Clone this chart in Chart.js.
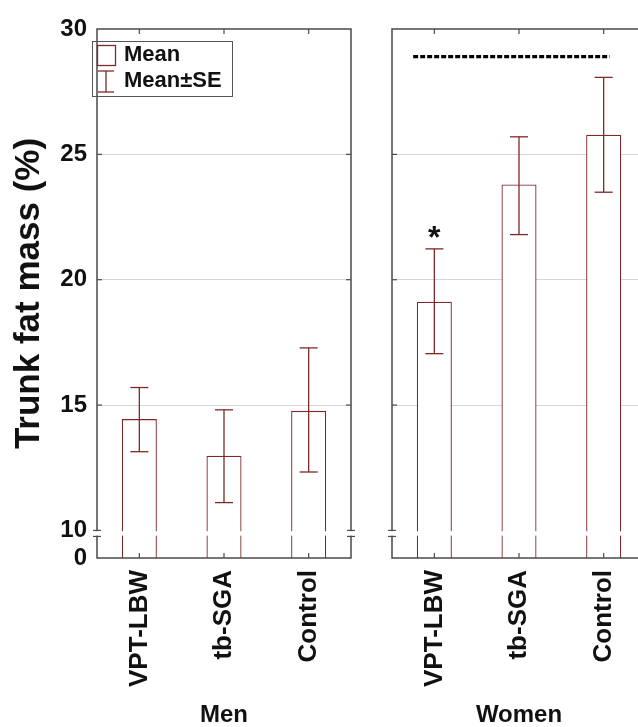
<!DOCTYPE html>
<html>
<head>
<meta charset="utf-8">
<script src="https://cdn.jsdelivr.net/npm/chart.js@4.4.0/dist/chart.umd.min.js"></script>
<style>
  html, body { margin: 0; padding: 0; background: #fff; overflow: hidden; }
  #wrap { position: relative; width: 638px; height: 727px; overflow: hidden; }
  #menChart { position: absolute; left: 0; top: 0; }
  #womenChart { position: absolute; left: 372px; top: 0; }
</style>
</head>
<body>
<div id="wrap">
  <canvas id="menChart" width="372" height="727"></canvas>
  <canvas id="womenChart" width="300" height="727"></canvas>
</div>
<script>
// data
const groups = ['VPT-LBW', 'tb-SGA', 'Control'];
const menMean = [14.44, 12.98, 14.77];
const menLow  = [13.14, 11.11, 12.33];
const menHigh = [15.70, 14.81, 17.28];
const womenMean = [19.12, 23.80, 25.78];
const womenLow  = [17.05, 21.80, 23.49];
const womenHigh = [21.23, 25.70, 28.07];

const yTicks = [10, 15, 20, 25, 30];
const yGrid = [15, 20, 25];
const yMin = 8.9;      // bottom of the broken axis, shown as 0
const yMax = 30;
const breakFrom = 10, breakTo = 9.76;

const starred = [0];                                  // women groups marked with *
const sigLine = { from: -0.25, to: 2.07, value: 28.9 }; // dashed line over women

const FONT = "'Liberation Sans', Arial, sans-serif";
const barColor = '#7f2a2a';
const frameColor = '#4a4a4a';

//   <------------ plugins ------------->

function line(ctx, x1, y1, x2, y2) {
  ctx.beginPath(); ctx.moveTo(x1, y1); ctx.lineTo(x2, y2); ctx.stroke();
}

const panelPlugin = {
  id: 'panel',
  afterDatasetsDraw(chart, args, opts) {
    const {ctx, chartArea: a, scales: {x, y}} = chart;
    ctx.save();

    // error bars
    ctx.strokeStyle = barColor;
    ctx.lineWidth = 1.3;
    opts.low.forEach((lo, i) => {
      const px = x.getPixelForValue(i);
      const yl = y.getPixelForValue(lo), yh = y.getPixelForValue(opts.high[i]);
      line(ctx, px, yl, px, yh);
      line(ctx, px - 9, yl, px + 9, yl);
      line(ctx, px - 9, yh, px + 9, yh);
    });

    // frame + inward ticks
    ctx.strokeStyle = frameColor;
    ctx.lineWidth = 1.5;
    ctx.strokeRect(a.left, a.top, a.width, a.height);
    ctx.lineWidth = 1.2;
    groups.forEach((g, i) => {
      const px = x.getPixelForValue(i);
      line(ctx, px, a.top, px, a.top + 5);
      line(ctx, px, a.bottom, px, a.bottom - 5);
    });
    yGrid.forEach(v => {
      const py = y.getPixelForValue(v);
      line(ctx, a.left, py, a.left + 5, py);
      line(ctx, a.right, py, a.right - 5, py);
    });

    // axis break
    const b1 = y.getPixelForValue(breakFrom), b2 = y.getPixelForValue(breakTo);
    ctx.fillStyle = '#fff';
    ctx.fillRect(a.left - 6, b1 + 0.8, a.width + 12, b2 - b1 - 1.6);
    ctx.strokeStyle = frameColor;
    ctx.lineWidth = 1.2;
    [a.left, a.right].forEach(ex => {
      line(ctx, ex - 4, b1, ex + 4, b1);
      line(ctx, ex - 4, b2, ex + 4, b2);
    });
    ctx.restore();
  }
};

const legendPlugin = {
  id: 'meanLegend',
  afterDraw(chart) {
    const {ctx, chartArea: a} = chart;
    const bx = a.left - 5, by = a.top + 12;
    ctx.save();
    ctx.strokeStyle = '#555';
    ctx.lineWidth = 1;
    ctx.strokeRect(bx + 0.5, by + 0.5, 140, 55);
    ctx.strokeStyle = barColor;
    ctx.lineWidth = 1.3;
    ctx.strokeRect(bx + 5.5, by + 4.5, 18, 20);
    const ex = bx + 14;
    line(ctx, ex, by + 30, ex, by + 51);
    line(ctx, ex - 8, by + 30, ex + 8, by + 30);
    line(ctx, ex - 8, by + 51, ex + 8, by + 51);
    ctx.fillStyle = '#111';
    ctx.font = 'bold 22px ' + FONT;
    ctx.textBaseline = 'middle';
    ctx.fillText('Mean', bx + 32, by + 14);
    ctx.fillText('Mean\u00b1SE', bx + 32, by + 40);
    ctx.restore();
  }
};

const signifPlugin = {
  id: 'signif',
  afterDraw(chart) {
    const {ctx, scales: {x, y}} = chart;
    ctx.save();
    ctx.fillStyle = '#111';
    ctx.font = 'bold 32px ' + FONT;
    ctx.textAlign = 'center';
    ctx.textBaseline = 'alphabetic';
    starred.forEach(i => {
      ctx.fillText('*', x.getPixelForValue(i), y.getPixelForValue(womenHigh[i]) - 1);
    });
    ctx.strokeStyle = '#000';
    ctx.lineWidth = 3.2;
    ctx.setLineDash([5, 2]);
    const py = y.getPixelForValue(sigLine.value);
    line(ctx, x.getPixelForValue(sigLine.from), py, x.getPixelForValue(sigLine.to), py);
    ctx.restore();
  }
};

//   <------------ charts ------------->

function makeChart(id, mean, low, high, title, isLeft) {
  const ctx = document.getElementById(id).getContext('2d');
  return new Chart(ctx, {
    type: 'bar',
    data: {
      labels: groups,
      datasets: [{
        data: mean,
        backgroundColor: '#fff',
        borderColor: barColor,
        borderWidth: 1.3,
        borderSkipped: 'start',
        barPercentage: 0.414,
        categoryPercentage: 1
      }]
    },
    options: {
      responsive: false,
      animation: false,
      events: [],
      layout: { padding: isLeft ? {top: 29, right: 21, left: 0, bottom: 0} : {top: 29, right: 26, left: 20, bottom: 0} },
      plugins: {
        legend: { display: false },
        tooltip: { enabled: false },
        panel: { low: low, high: high }
      },
      scales: {
        x: {
          offset: true,
          grid: { display: false, drawTicks: false },
          border: { display: false },
          afterFit(s) { s.height = 169; },
          ticks: {
            autoSkip: false, minRotation: 90, maxRotation: 90, padding: 12,
            color: '#111', font: { family: FONT, size: 26, weight: 'bold' }
          },
          title: {
            display: true, text: title, color: '#111', padding: 0,
            font: { family: FONT, size: 24, weight: 'bold', lineHeight: 1 }
          }
        },
        y: {
          min: yMin, max: yMax,
          afterBuildTicks(s) { s.ticks = [yMin].concat(yTicks).map(v => ({value: v})); },
          afterFit(s) { s.width = isLeft ? 97 : 0; },
          border: { display: false },
          grid: {
            drawTicks: false, lineWidth: 1,
            color: c => (c.tick && yGrid.includes(c.tick.value)) ? '#d6d6d6' : 'rgba(0,0,0,0)'
          },
          ticks: {
            display: isLeft, padding: 10, color: '#111',
            font: { family: FONT, size: 24, weight: 'bold' },
            callback: v => v === yMin ? '0' : String(v)
          },
          title: {
            display: isLeft, text: 'Trunk fat mass (%)', color: '#111',
            padding: { top: 8, bottom: 0 },
            font: { family: FONT, size: 35, weight: 'bold', lineHeight: 1.2 }
          }
        }
      }
    },
    plugins: isLeft ? [panelPlugin, legendPlugin] : [panelPlugin, signifPlugin]
  });
}

var menChart = makeChart('menChart', menMean, menLow, menHigh, 'Men', true);
var womenChart = makeChart('womenChart', womenMean, womenLow, womenHigh, 'Women', false);
</script>
</body>
</html>
